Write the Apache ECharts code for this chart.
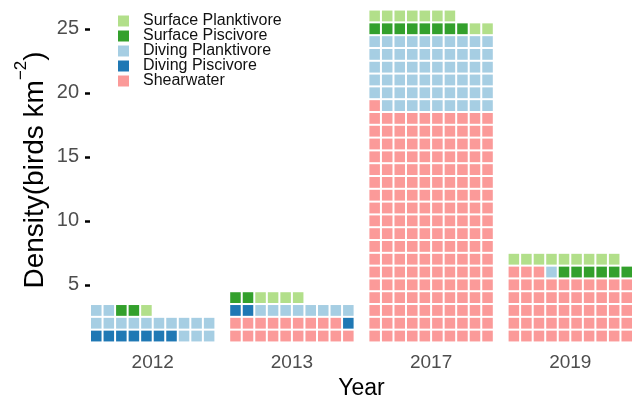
<!DOCTYPE html>
<html>
<head>
<meta charset="utf-8">
<script src="https://cdn.jsdelivr.net/npm/echarts@6/dist/echarts.min.js"></script>
<style>
  html, body { margin: 0; padding: 0; background: #fff; }
  #chart { width: 636px; height: 399px; }
</style>
</head>
<body>
<div id="chart"></div>
<script>
// Survey years (one waffle block each)
const years = ['2012', '2013', '2017', '2019'];

// Density by foraging guild, birds per km²; one square = 0.1
const shearwater         = [0.0, 1.9, 18.1, 5.3];
const divingPiscivore    = [0.7, 0.3, 0.0, 0.0];
const divingPlanktivore  = [1.5, 0.8, 5.9, 0.1];
const surfacePiscivore   = [0.2, 0.2, 0.8, 0.6];
const surfacePlanktivore = [0.1, 0.4, 0.9, 0.9];

const yTicks = [5, 10, 15, 20, 25];

// Stacking order, bottom-up, left to right within each row
const groups = [
  { name: 'Shearwater',          values: shearwater,         color: '#FB9A99' },
  { name: 'Diving Piscivore',    values: divingPiscivore,    color: '#1F78B4' },
  { name: 'Diving Planktivore',  values: divingPlanktivore,  color: '#A6CEE3' },
  { name: 'Surface Piscivore',   values: surfacePiscivore,   color: '#33A02C' },
  { name: 'Surface Planktivore', values: surfacePlanktivore, color: '#B2DF8A' }
];

const COLS = 10;          // squares per row
const PER_SQUARE = 0.1;   // density represented by one square
const PITCH = 11.1;       // block spacing along x, in square units

// Lay out the squares of each year's block
const squares = groups.map(() => []);
years.forEach((yr, i) => {
  let idx = 0;
  groups.forEach((g, gi) => {
    const n = Math.round(g.values[i] / PER_SQUARE);
    for (let k = 0; k < n; k++, idx++) {
      squares[gi].push([i * PITCH + (idx % COLS) + 0.5, Math.floor(idx / COLS) + 1]);
    }
  });
});

const blockCenters = years.map((yr, i) => i * PITCH + COLS / 2);

function renderSquare(params, api) {
  const x = api.value(0), y = api.value(1);
  const a = api.coord([x - 0.5, y + 0.5]);
  const b = api.coord([x + 0.5, y - 0.5]);
  return {
    type: 'rect',
    shape: { x: a[0] + 1, y: a[1] + 1, width: b[0] - a[0] - 2, height: b[1] - a[1] - 2 },
    style: { fill: api.visual('color') }
  };
}

const FONT = "'Liberation Sans', Arial, sans-serif";

const chart = echarts.init(document.getElementById('chart'));
chart.setOption({
  animation: false,
  backgroundColor: '#fff',
  textStyle: { fontFamily: FONT },
  grid: { left: 90, right: 3, top: 7, bottom: 54, outerBoundsMode: 'none' },
  legend: {
    data: groups.map(g => g.name).reverse(),
    orient: 'vertical',
    left: 113,
    top: 8,
    icon: 'rect',
    itemWidth: 11,
    itemHeight: 11,
    itemGap: -1,
    textStyle: { fontFamily: FONT, fontSize: 16, color: '#111', padding: [0, 0, 0, 9] }
  },
  xAxis: {
    type: 'value',
    min: 0,
    max: (years.length - 1) * PITCH + COLS,
    axisLine: { show: false },
    axisTick: { show: false },
    splitLine: { show: false },
    axisLabel: {
      customValues: blockCenters,
      formatter: v => years[Math.round((v - COLS / 2) / PITCH)],
      fontFamily: FONT,
      fontSize: 19,
      color: '#4D4D4D',
      margin: 8
    },
    name: 'Year',
    nameLocation: 'middle',
    nameGap: 28,
    nameTextStyle: { fontFamily: FONT, fontSize: 23, color: '#000' }
  },
  yAxis: {
    type: 'value',
    min: 0.3,
    max: 26.7,
    axisLine: { show: false },
    splitLine: { show: false },
    axisTick: {
      show: true,
      customValues: yTicks,
      length: 5,
      lineStyle: { color: '#000', width: 2.5 }
    },
    axisLabel: {
      customValues: yTicks,
      fontFamily: FONT,
      fontSize: 20,
      color: '#4D4D4D',
      margin: 11
    }
  },
  graphic: [{
    type: 'text',
    x: 31,
    y: 170,
    rotation: Math.PI / 2,
    style: {
      text: '{a|Density(birds km}{s|\u22122}{a|)}',
      align: 'center',
      verticalAlign: 'middle',
      rich: {
        a: { fontFamily: FONT, fontSize: 28, lineHeight: 36, verticalAlign: 'bottom', fill: '#000' },
        s: { fontFamily: FONT, fontSize: 17, lineHeight: 17, verticalAlign: 'top', fill: '#000' }
      }
    }
  }],
  series: groups.map((g, gi) => ({
    type: 'custom',
    name: g.name,
    coordinateSystem: 'cartesian2d',
    itemStyle: { color: g.color },
    encode: { x: 0, y: 1 },
    renderItem: renderSquare,
    data: squares[gi]
  }))
});
</script>
</body>
</html>
